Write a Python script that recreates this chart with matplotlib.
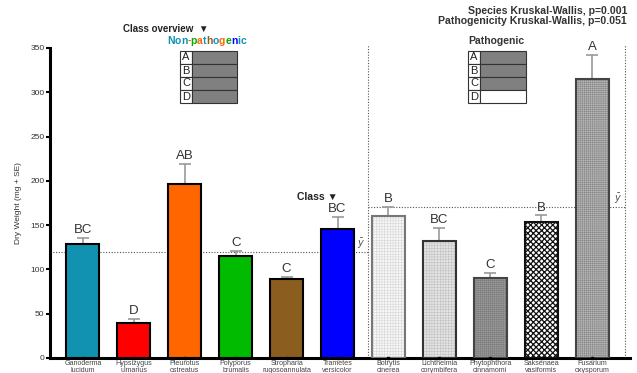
import matplotlib
matplotlib.use("Agg")
import matplotlib.pyplot as plt
from matplotlib.patches import Rectangle
import numpy as np

plt.rcParams['font.family'] = ['Liberation Sans', 'DejaVu Sans']
plt.rcParams['hatch.linewidth'] = 0.35

# Data
species = ["Ganoderma\nlucidum", "Hypsizygus\nulmarius", "Pleurotus\nostreatus",
           "Polyporus\nbrumalis", "Stropharia\nrugosoannulata", "Trametes\nversicolor",
           "Botrytis\ncinerea", "Lichtheimia\ncorymbifera", "Phytophthora\ncinnamomi",
           "Saksenaea\nvasiformis", "Fusarium\noxysporum"]
dry_weight = [129, 39.5, 196, 115.5, 89.5, 146, 160, 132, 90.5, 153, 315]
se = [6.5, 4.5, 23.5, 5, 2, 13.5, 11, 15, 6, 8, 27]
letters = ["BC", "D", "AB", "C", "C", "BC", "B", "BC", "C", "B", "A"]
pathogenic = [False] * 6 + [True] * 5
class_nonpath = ["A", "B", "C", "D"]
class_nonpath_sig = [True, True, True, True]
class_path = ["A", "B", "C", "D"]
class_path_sig = [True, True, True, False]

# Styling for each bar
face = ["#1192b0", "#ff0000", "#ff6600", "#00bb00", "#8b5e20", "#0000ff",
        "#f6f6f6", "#e4e4e4", "#9c9c9c", "#ffffff", "#b8b8b8"]
hatches = [None] * 6 + ["++++++", "++++++", "++++++++", "xxxxxx", "++++++++"]
hatch_col = [None] * 6 + ["#d4d4d4", "#bdbdbd", "#777777", "#111111", "#858585"]
hatch_lw = [None] * 6 + [0.35, 0.35, 0.35, 0.9, 0.35]
edge = ["black"] * 6 + ["#777777", "#333333", "#444444", "#111111", "#444444"]

fig = plt.figure(figsize=(6.37, 3.73), dpi=100)
W, H = 637, 373
ax_left, ax_right, ax_bot, ax_top = 50, 630, 358, 48
ax = fig.add_axes([ax_left / W, (H - ax_bot) / H, (ax_right - ax_left) / W, (ax_bot - ax_top) / H])

x = np.arange(len(species))
xmin, xmax = -0.647, 10.745
ax.set_xlim(xmin, xmax)
ax.set_ylim(0, 350)

bw = 0.65
for i in x:
    ax.errorbar(i, dry_weight[i], yerr=[[0], [se[i]]], color="#999999", lw=1.2,
                capsize=4, capthick=1.2, zorder=2)
    ax.bar(i, dry_weight[i], width=bw, color=face[i], edgecolor='none', zorder=3)
    if hatches[i]:
        with plt.rc_context({'hatch.linewidth': hatch_lw[i]}):
            ax.bar(i, dry_weight[i], width=bw, color='none', edgecolor=hatch_col[i],
                   hatch=hatches[i], linewidth=0, zorder=3.5)
    ax.bar(i, dry_weight[i], width=bw, color='none', edgecolor=edge[i],
           linewidth=1.5, zorder=4)
    ax.text(i, dry_weight[i] + se[i] + 2, letters[i], ha='center', va='bottom',
            fontsize=9.5, color="#333333", zorder=5)
    ax.plot(i, 0, marker='s', ms=2, color='black', zorder=6, clip_on=False)

# Group means and dividers
nonpath_mean = np.mean([v for v, p in zip(dry_weight, pathogenic) if not p])
path_mean = np.mean([v for v, p in zip(dry_weight, pathogenic) if p])
div = 5.6
right_div = 10.65
ax.plot([xmin, div], [nonpath_mean, nonpath_mean], ls=(0, (1, 1.5)), color="#555555", lw=0.8, zorder=1)
ax.plot([div, right_div], [path_mean, path_mean], ls=(0, (1, 1.5)), color="#555555", lw=0.8, zorder=1)
for xd in (div, right_div):
    ax.plot([xd, xd], [0, 353], ls=(0, (1, 1.5)), color="#555555", lw=0.8, zorder=1, clip_on=False)
ax.text(div - 0.14, nonpath_mean + 2, r"$\bar{y}$", ha='center', va='bottom', fontsize=7, color="#555555")
ax.text(right_div - 0.14, path_mean + 2, r"$\bar{y}$", ha='center', va='bottom', fontsize=7, color="#555555")

# Axes styling
for s in ("top", "right"):
    ax.spines[s].set_visible(False)
ax.spines["left"].set_linewidth(2.2)
ax.spines["bottom"].set_linewidth(2.2)
ax.set_yticks(np.arange(0, 351, 50))
ax.tick_params(axis='y', labelsize=6, length=3, width=1.5, pad=1)
for lab in ax.get_yticklabels():
    lab.set_color("#333333")
ax.set_xticks(x)
ax.set_xticklabels(species, fontsize=5.1, color="#444444", linespacing=1.05)
ax.tick_params(axis='x', length=0, pad=1.5)
ax.set_ylabel("Dry Weight (mg + SE)", fontsize=6, color="#333333", labelpad=6)

# Header texts
fig.text(627 / W, 1 - 11 / H, "Species Kruskal-Wallis, p=0.001", ha='right', va='center',
         fontsize=7.6, fontweight='bold', color="#333333")
fig.text(627 / W, 1 - 21.5 / H, "Pathogenicity Kruskal-Wallis, p=0.051", ha='right', va='center',
         fontsize=7.6, fontweight='bold', color="#333333")
fig.text(123 / W, 1 - 29 / H, "Class overview  \u25BC", ha='left', va='center',
         fontsize=7, fontweight='bold', color="#222222")
fig.text(297 / W, 1 - 197 / H, "Class \u25BC", ha='left', va='center',
         fontsize=7.5, fontweight='bold', color="#222222")
fig.text(496 / W, 1 - 41 / H, "Pathogenic", ha='center', va='center',
         fontsize=7.5, fontweight='bold', color="#333333")

# Multi-coloured "Non-pathogenic" heading
word = "Non-pathogenic"
char_cols = ["#1192b0", "#1192b0", "#1192b0", "#ff6600", "#00aa00", "#ff6600", "#1192b0",
             "#8b5e20", "#1192b0", "#ff6600", "#00aa00", "#0000ff", "#1192b0", "#1192b0"]
renderer = fig.canvas.get_renderer()
xpos = 167 / W
for ch, c in zip(word, char_cols):
    t = fig.text(xpos, 1 - 41 / H, ch, ha='left', va='center', fontsize=7.5,
                 fontweight='bold', color=c)
    bb = t.get_window_extent(renderer=renderer)
    xpos += bb.width / W


def class_table(x0, x1, y0, labels, sig):
    row_h = 13
    cell_w = 12
    for k, (lab, s) in enumerate(zip(labels, sig)):
        top = y0 + k * row_h
        fig.add_artist(Rectangle((x0 / W, 1 - (top + row_h) / H), cell_w / W, row_h / H,
                                 transform=fig.transFigure, facecolor='white',
                                 edgecolor='#333333', lw=0.8))
        fig.add_artist(Rectangle(((x0 + cell_w) / W, 1 - (top + row_h) / H), (x1 - x0 - cell_w) / W,
                                 row_h / H, transform=fig.transFigure,
                                 facecolor='#808080' if s else 'white',
                                 edgecolor='#333333', lw=0.8))
        fig.text((x0 + cell_w / 2) / W, 1 - (top + row_h / 2) / H, lab, ha='center',
                 va='center', fontsize=8, color="#222222")


class_table(180, 237, 51, class_nonpath, class_nonpath_sig)
class_table(468, 526, 51, class_path, class_path_sig)

fig.savefig("out.png", dpi=100)
